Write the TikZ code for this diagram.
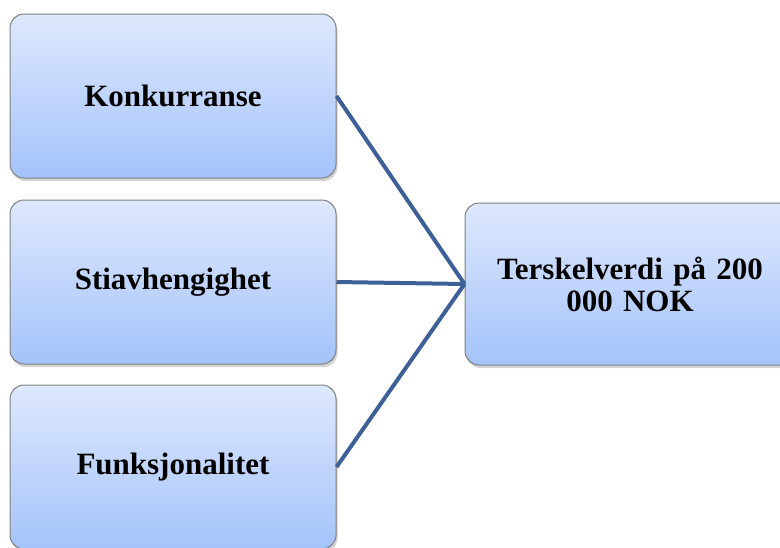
\documentclass[tikz,border=0pt]{standalone}
\usepackage{fontspec}
\setmainfont{Liberation Serif}
\usetikzlibrary{positioning, shadows}
\definecolor{boxtop}{RGB}{222,232,253}
\definecolor{boxbot}{RGB}{164,195,250}
\definecolor{linkblue}{RGB}{61,97,150}

\begin{document}
\begin{tikzpicture}[
      x=1pt, y=-1pt,
      font=\fontsize{31}{32}\selectfont\bfseries,
      box/.style={draw=black!50, line width=1pt, rounded corners=14pt,
        top color=boxtop, bottom color=boxbot,
        drop shadow={shadow xshift=1.5pt, shadow yshift=-3pt, opacity=0.35},
        minimum width=326pt, minimum height=164pt, align=center,
        text width=300pt, inner sep=0pt},
      link/.style={draw=linkblue, line width=4pt},
    ]

    % ---- frame -----------------------------------------------------------
    \useasboundingbox (0,0) rectangle (780,547);

    % ---- left column -----------------------------------------------------
    \node[box] (konk) at (173,96) {Konkurranse};
    \node[box] (stia) at (173,282) {Stiavhengighet};
    \node[box] (funk) at (173,467) {Funksjonalitet};

    % ---- goal --------------------------------------------------------------
    \node[box, minimum width=330pt, minimum height=162pt] (terskel) at (630,284)
      {Terskelverdi på 200\\000 NOK};

    % ---- links -----------------------------------------------------------
    \draw[link] (konk.east) -- (terskel.west);
    \draw[link] (stia.east) -- (terskel.west);
    \draw[link] (funk.east) -- (terskel.west);
  \end{tikzpicture}
\end{document}
